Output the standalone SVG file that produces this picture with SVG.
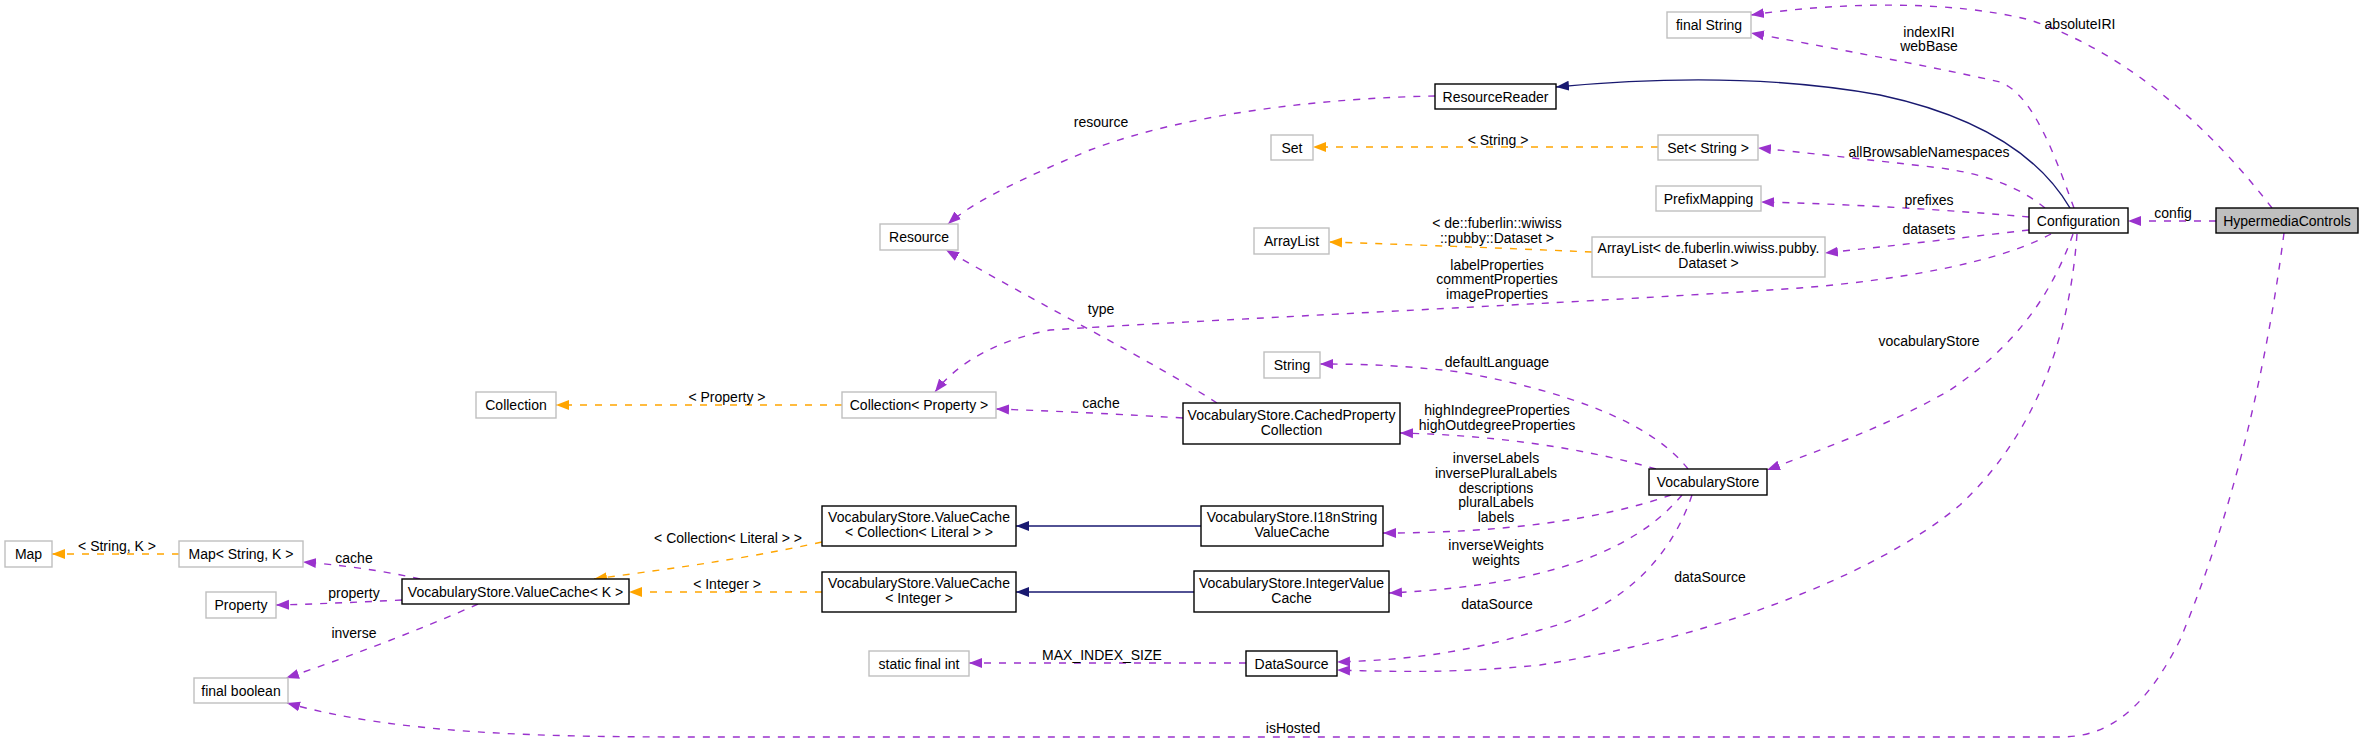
<svg xmlns="http://www.w3.org/2000/svg" width="2363" height="742" viewBox="0 0 2363 742">
<style>
text{font-family:"Liberation Sans Narrow","Liberation Sans",Arial,sans-serif;font-size:14px;fill:#000;text-anchor:middle}
.nb rect{fill:#fff;stroke:#000;stroke-width:1.4}
.ng rect{fill:#fff;stroke:#bfbfbf;stroke-width:1.4}
.nh rect{fill:#bfbfbf;stroke:#000;stroke-width:1.4}
.p{fill:none;stroke:#9a32cd;stroke-width:1.4;stroke-dasharray:7,8;marker-end:url(#ap)}
.o{fill:none;stroke:#ffa500;stroke-width:1.4;stroke-dasharray:7,8;marker-end:url(#ao)}
.n{fill:none;stroke:#191970;stroke-width:1.4;marker-end:url(#an)}
</style>
<defs>
<marker id="ap" markerUnits="userSpaceOnUse" markerWidth="14" markerHeight="11" refX="13" refY="5" orient="auto" viewBox="0 0 14 10"><path d="M0,0 L13,5 L0,10 Z" fill="#9a32cd"/></marker>
<marker id="ao" markerUnits="userSpaceOnUse" markerWidth="14" markerHeight="11" refX="13" refY="5" orient="auto" viewBox="0 0 14 10"><path d="M0,0 L13,5 L0,10 Z" fill="#ffa500"/></marker>
<marker id="an" markerUnits="userSpaceOnUse" markerWidth="14" markerHeight="11" refX="13" refY="5" orient="auto" viewBox="0 0 14 10"><path d="M0,0 L13,5 L0,10 Z" fill="#191970"/></marker>
</defs>
<g id="edges">
<path class="p" d="M2216,221 L2128,221"/>
<path class="p" d="M2272,208 C2235,160 2150,60 2030,20 C1950,0 1840,2 1751,15"/>
<path class="p" d="M2074,208 C2058,165 2035,95 2000,82 C1920,64 1820,46 1751,33"/>
<path class="n" d="M2070,208 C2030,140 1950,110 1880,95 C1770,75 1650,78 1556,87"/>
<path class="p" d="M1435,96 C1330,98 1190,112 1090,150 C1030,175 975,200 948,224"/>
<path class="o" d="M1658,147 L1313,147"/>
<path class="p" d="M2045,208 C2020,188 1990,175 1941,168 C1870,160 1800,152 1758,148"/>
<path class="p" d="M2029,217 C1950,210 1850,204 1761,202"/>
<path class="p" d="M2029,230 C1960,238 1890,246 1825,253"/>
<path class="o" d="M1592,252 C1500,248 1420,245 1329,242"/>
<path class="p" d="M2051,234 C2000,262 1900,280 1800,288 C1600,302 1200,320 1050,330 C1000,340 960,360 935,392"/>
<path class="p" d="M1217,403 C1150,360 1050,310 946,250"/>
<path class="p" d="M1183,418 C1100,413 1050,411 996,409"/>
<path class="o" d="M842,405 L556,405"/>
<path class="p" d="M1688,469 C1650,420 1560,390 1460,372 C1400,365 1360,364 1320,364"/>
<path class="p" d="M1656,469 C1580,447 1490,435 1400,433"/>
<path class="p" d="M1671,495 C1600,520 1500,533 1383,533"/>
<path class="p" d="M1682,495 C1640,545 1560,585 1389,593"/>
<path class="p" d="M1692,495 C1670,560 1620,610 1540,630 C1460,655 1400,660 1337,662"/>
<path class="p" d="M2073,234 C2050,300 2010,350 1950,390 C1890,425 1820,450 1767,470"/>
<path class="p" d="M2077,234 C2070,330 2040,430 1960,505 C1870,580 1700,640 1540,665 C1460,673 1400,672 1337,670"/>
<path class="p" d="M2284,233 C2265,380 2230,520 2180,640 C2140,720 2100,737 2060,737 L700,737 C550,737 400,735 287,703"/>
<path class="p" d="M420,579 C380,570 340,565 303,562"/>
<path class="p" d="M402,600 C360,602 320,604 276,605"/>
<path class="p" d="M478,604 C420,630 340,660 286,678"/>
<path class="o" d="M179,554 L52,554"/>
<path class="o" d="M822,542 C740,560 660,570 594,579"/>
<path class="o" d="M822,592 L629,592"/>
<path class="n" d="M1201,526 L1016,526"/>
<path class="n" d="M1194,592 L1016,592"/>
<path class="p" d="M1246,663 L969,663"/>
<text x="2173" y="218">config</text>
<text x="2080" y="29">absoluteIRI</text>
<text x="1929" y="37">indexIRI</text>
<text x="1929" y="51">webBase</text>
<text x="1929" y="157">allBrowsableNamespaces</text>
<text x="1929" y="205">prefixes</text>
<text x="1929" y="234">datasets</text>
<text x="1101" y="127">resource</text>
<text x="1498" y="145">&lt; String &gt;</text>
<text x="1497" y="228">&lt; de::fuberlin::wiwiss</text>
<text x="1497" y="243">::pubby::Dataset &gt;</text>
<text x="1497" y="270">labelProperties</text>
<text x="1497" y="284">commentProperties</text>
<text x="1497" y="299">imageProperties</text>
<text x="1101" y="314">type</text>
<text x="727" y="402">&lt; Property &gt;</text>
<text x="1101" y="408">cache</text>
<text x="1497" y="367">defaultLanguage</text>
<text x="1497" y="415">highIndegreeProperties</text>
<text x="1497" y="430">highOutdegreeProperties</text>
<text x="1496" y="463">inverseLabels</text>
<text x="1496" y="478">inversePluralLabels</text>
<text x="1496" y="493">descriptions</text>
<text x="1496" y="507">pluralLabels</text>
<text x="1496" y="522">labels</text>
<text x="1496" y="550">inverseWeights</text>
<text x="1496" y="565">weights</text>
<text x="1497" y="609">dataSource</text>
<text x="1710" y="582">dataSource</text>
<text x="1929" y="346">vocabularyStore</text>
<text x="1293" y="733">isHosted</text>
<text x="1102" y="660">MAX_INDEX_SIZE</text>
<text x="728" y="543">&lt; Collection&lt; Literal &gt; &gt;</text>
<text x="727" y="589">&lt; Integer &gt;</text>
<text x="117" y="551">&lt; String, K &gt;</text>
<text x="354" y="563">cache</text>
<text x="354" y="598">property</text>
<text x="354" y="638">inverse</text>
</g>
<g id="HypermediaControls" class="nh"><rect x="2216" y="208" width="142" height="25"/><text x="2287" y="225.5">HypermediaControls</text></g>
<g id="Configuration" class="nb"><rect x="2029" y="208" width="99" height="25"/><text x="2078.5" y="225.5">Configuration</text></g>
<g id="finalString" class="ng"><rect x="1667" y="12" width="84" height="26"/><text x="1709" y="30">final String</text></g>
<g id="ResourceReader" class="nb"><rect x="1435" y="84" width="121" height="25"/><text x="1495.5" y="101.5">ResourceReader</text></g>
<g id="SetString" class="ng"><rect x="1658" y="135" width="100" height="25"/><text x="1708" y="152.5">Set&lt; String &gt;</text></g>
<g id="Set" class="ng"><rect x="1271" y="135" width="42" height="25"/><text x="1292" y="152.5">Set</text></g>
<g id="PrefixMapping" class="ng"><rect x="1656" y="186" width="105" height="25"/><text x="1708.5" y="203.5">PrefixMapping</text></g>
<g id="ArrayListDataset" class="ng"><rect x="1592" y="237" width="233" height="40"/><text x="1708.5" y="253">ArrayList&lt; de.fuberlin.wiwiss.pubby.</text><text x="1708.5" y="268">Dataset &gt;</text></g>
<g id="ArrayList" class="ng"><rect x="1254" y="228" width="75" height="26"/><text x="1291.5" y="246">ArrayList</text></g>
<g id="Resource" class="ng"><rect x="880" y="224" width="78" height="26"/><text x="919" y="242">Resource</text></g>
<g id="CollectionProperty" class="ng"><rect x="842" y="392" width="154" height="26"/><text x="919" y="410">Collection&lt; Property &gt;</text></g>
<g id="Collection" class="ng"><rect x="476" y="392" width="80" height="26"/><text x="516" y="410">Collection</text></g>
<g id="String" class="ng"><rect x="1264" y="352" width="56" height="26"/><text x="1292" y="370">String</text></g>
<g id="CachedPropertyCollection" class="nb"><rect x="1183" y="403" width="217" height="41"/><text x="1291.5" y="420">VocabularyStore.CachedProperty</text><text x="1291.5" y="435">Collection</text></g>
<g id="VocabularyStore" class="nb"><rect x="1649" y="469" width="118" height="26"/><text x="1708" y="487">VocabularyStore</text></g>
<g id="I18nStringValueCache" class="nb"><rect x="1201" y="506" width="182" height="40"/><text x="1292" y="522">VocabularyStore.I18nString</text><text x="1292" y="537">ValueCache</text></g>
<g id="IntegerValueCache" class="nb"><rect x="1194" y="571" width="195" height="41"/><text x="1291.5" y="588">VocabularyStore.IntegerValue</text><text x="1291.5" y="603">Cache</text></g>
<g id="DataSource" class="nb"><rect x="1246" y="651" width="91" height="25"/><text x="1291.5" y="668.5">DataSource</text></g>
<g id="ValueCacheCollection" class="nb"><rect x="822" y="506" width="194" height="40"/><text x="919" y="522">VocabularyStore.ValueCache</text><text x="919" y="537">&lt; Collection&lt; Literal &gt; &gt;</text></g>
<g id="ValueCacheInteger" class="nb"><rect x="822" y="572" width="194" height="40"/><text x="919" y="588">VocabularyStore.ValueCache</text><text x="919" y="603">&lt; Integer &gt;</text></g>
<g id="staticFinalInt" class="ng"><rect x="869" y="651" width="100" height="25"/><text x="919" y="668.5">static final int</text></g>
<g id="ValueCacheK" class="nb"><rect x="402" y="579" width="227" height="25"/><text x="515.5" y="596.5">VocabularyStore.ValueCache&lt; K &gt;</text></g>
<g id="MapStringK" class="ng"><rect x="179" y="541" width="124" height="26"/><text x="241" y="559">Map&lt; String, K &gt;</text></g>
<g id="Map" class="ng"><rect x="5" y="541" width="47" height="26"/><text x="28.5" y="559">Map</text></g>
<g id="Property" class="ng"><rect x="206" y="592" width="70" height="26"/><text x="241" y="610">Property</text></g>
<g id="finalBoolean" class="ng"><rect x="194" y="678" width="94" height="25"/><text x="241" y="695.5">final boolean</text></g>
</svg>
